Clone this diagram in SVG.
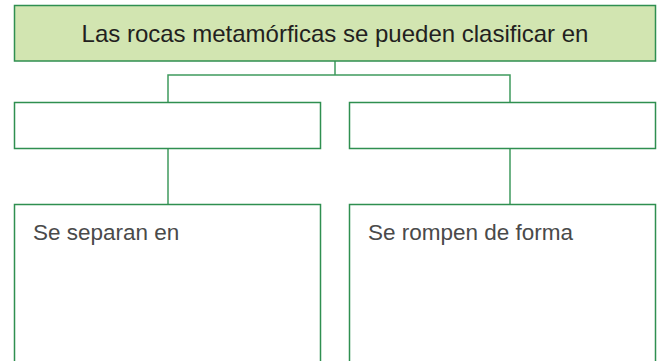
<svg xmlns="http://www.w3.org/2000/svg" width="661" height="361" viewBox="0 0 661 361">
<style>
.box{fill:#ffffff;stroke:#2f8f50;stroke-width:1.5}
.top{fill:#d2e5b1;stroke:#2f8f50;stroke-width:1.5}
.con{fill:none;stroke:#3f9a5e;stroke-width:1.5}
.t{font-family:"Liberation Sans",Arial,sans-serif}
.title{font-size:24px;fill:#231f20}
.lbl{font-size:22.5px;fill:#4a4a4a}
</style>
<rect width="661" height="361" fill="#ffffff"/>
<g id="connectors">
<path class="con" d="M335,61 V75 M168,102 V75 H510 V102"/>
<path class="con" d="M168,148 V204"/>
<path class="con" d="M510,148 V204"/>
</g>
<g id="node-top">
<rect class="top" x="14.5" y="5.5" width="641" height="55.5"/>
<text class="t title" x="335" y="42" text-anchor="middle">Las rocas metamórficas se pueden clasificar en</text>
</g>
<g id="node-mid-left">
<rect class="box" x="14.5" y="102.5" width="306" height="46"/>
</g>
<g id="node-mid-right">
<rect class="box" x="349.5" y="102.5" width="306" height="46"/>
</g>
<g id="node-bottom-left">
<rect class="box" x="14.5" y="204.5" width="306" height="170"/>
<text class="t lbl" x="33" y="240">Se separan en</text>
</g>
<g id="node-bottom-right">
<rect class="box" x="349.5" y="204.5" width="306" height="170"/>
<text class="t lbl" x="368" y="240">Se rompen de forma</text>
</g>
</svg>
